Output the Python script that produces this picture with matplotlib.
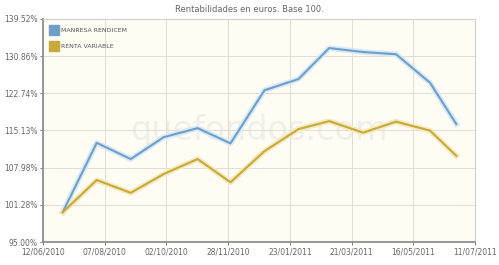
import datetime as dt
import numpy as np
import matplotlib
matplotlib.use("Agg")
import matplotlib.pyplot as plt
import matplotlib.dates as mdates
from matplotlib.lines import Line2D
from matplotlib.ticker import FixedLocator, NullLocator

# monthly values, base 100
dates = ["2010-06-30", "2010-07-31", "2010-08-31", "2010-09-30", "2010-10-31",
         "2010-11-30", "2010-12-31", "2011-01-31", "2011-02-28", "2011-03-31",
         "2011-04-30", "2011-05-31", "2011-06-24"]
manresa = [100.0, 112.7, 109.6, 113.8, 115.6, 112.6, 123.4, 125.8, 132.7, 131.8, 131.3, 125.0, 116.4]
renta = [100.0, 105.7, 103.4, 106.8, 109.6, 105.3, 111.1, 115.4, 117.0, 114.7, 116.9, 115.1, 110.2]

y_ticks = [95.00, 101.28, 107.98, 115.13, 122.74, 130.86, 139.52]
x_tick_labels = ["12/06/2010", "07/08/2010", "02/10/2010", "28/11/2010",
                 "23/01/2011", "21/03/2011", "16/05/2011", "11/07/2011"]

x = [dt.datetime.strptime(d, "%Y-%m-%d") for d in dates]
x_ticks = [dt.datetime.strptime(d, "%d/%m/%Y") for d in x_tick_labels]
# ticks are evenly spaced on the original chart
t0 = mdates.date2num(x_ticks[0])
t1 = mdates.date2num(x_ticks[-1])
x_tick_pos = np.linspace(t0, t1, len(x_ticks))

blue = "#6f9fc9"
gold = "#c9a93a"
txt = "#666666"

fig = plt.figure(figsize=(4.99, 2.65), dpi=100)
ax = fig.add_axes([43 / 499, 1 - 242 / 265, 432 / 499, 223 / 265])
ax.set_facecolor("#fffcf3")

ax.set_yscale("log")
ax.set_ylim(95.0, 139.52)
ax.set_xlim(t0, t1)
ax.yaxis.set_major_locator(FixedLocator(y_ticks))
ax.yaxis.set_minor_locator(NullLocator())
ax.set_yticks(y_ticks)
ax.set_yticklabels([f"{v:.2f}%" for v in y_ticks])
ax.set_xticks(x_tick_pos)
ax.set_xticklabels(x_tick_labels)
ax.tick_params(labelsize=5.5, colors=txt, length=2, width=0.6, pad=2)
ax.grid(True, color="#dcd9cf", lw=0.6)

for sp in ["top", "right"]:
    ax.spines[sp].set_color("#cfcfcf")
    ax.spines[sp].set_linewidth(0.8)
for sp in ["left", "bottom"]:
    ax.spines[sp].set_color("#8f8f8f")
    ax.spines[sp].set_linewidth(1.3)

xn = mdates.date2num(x)
# soft glow under the lines
ax.plot(xn, manresa, color="#d8eaf7", lw=4, solid_joinstyle="round", zorder=2)
ax.plot(xn, renta, color="#f3ebc0", lw=4, solid_joinstyle="round", zorder=2)
ax.plot(xn, manresa, color=blue, lw=1.5, zorder=3)
ax.plot(xn, renta, color=gold, lw=1.5, zorder=3)

ax.text(0.5, 0.5, "quefondos.com", transform=ax.transAxes, ha="center", va="center",
        fontsize=24, color="#f1efe9", zorder=1)

handles = [Line2D([], [], ls="none", marker="s", markersize=7, color=c) for c in [blue, gold]]
leg = ax.legend(handles, ["MANRESA RENDICEM", "RENTA VARIABLE"], loc="upper left",
                bbox_to_anchor=(0.005, 0.985), frameon=False, fontsize=4.5,
                handletextpad=0.6, labelspacing=1.6, handlelength=1.0)
for t in leg.get_texts():
    t.set_color("#555555")

fig.text(0.5, 1 - 9 / 265, "Rentabilidades en euros. Base 100.", ha="center", va="center",
         fontsize=6, color=txt)

fig.savefig("out.png", dpi=100)
